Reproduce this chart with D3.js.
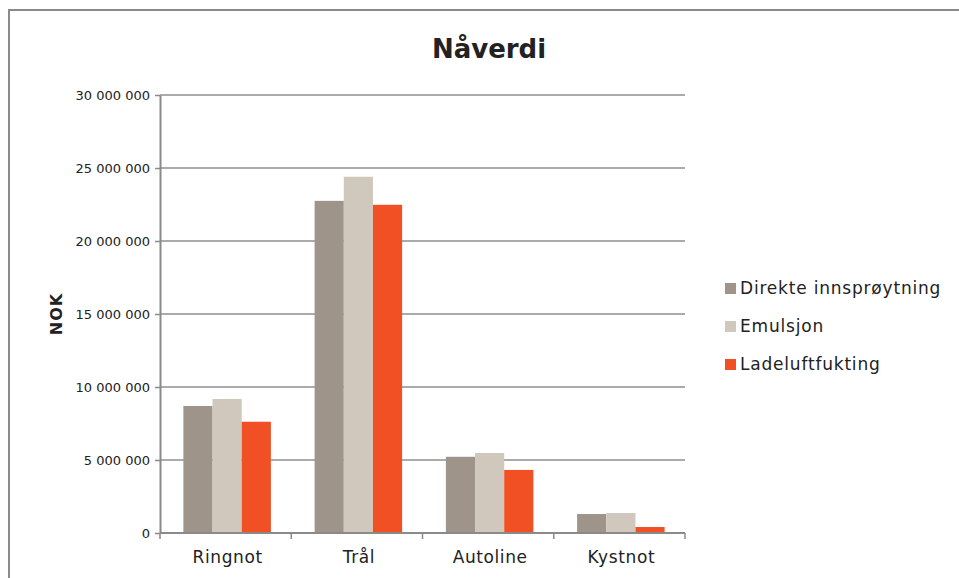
<!DOCTYPE html>
<html>
<head>
<meta charset="utf-8">
<script src="https://cdn.jsdelivr.net/npm/d3@7"></script>
<style>
  body { margin: 0; background: #fff; }
  text { font-family: "DejaVu Sans", Verdana, sans-serif; fill: #222; }
</style>
</head>
<body>
<svg width="959" height="578"></svg>
<script>
var categories = ['Ringnot', 'Trål', 'Autoline', 'Kystnot'];
var seriesNames = ['Direkte innsprøytning', 'Emulsjon', 'Ladeluftfukting'];
var seriesColors = ['#9e948a', '#d0c8bd', '#f05023'];
var direkte = [8700000, 22750000, 5220000, 1300000];
var emulsjon = [9180000, 24400000, 5480000, 1370000];
var ladeluft = [7620000, 22480000, 4320000, 410000];
var yTicks = [0, 5000000, 10000000, 15000000, 20000000, 25000000, 30000000];

var values = [direkte, emulsjon, ladeluft];

var svg = d3.select('svg'),
    w = +svg.attr('width'),
    h = +svg.attr('height');

// outer frame
svg.append('path')
    .attr('d', 'M9,' + (h + 5) + 'V10H' + (w + 5))
    .attr('fill', 'none')
    .attr('stroke', '#8a8a8a')
    .attr('stroke-width', 2);

var plotL = 160, plotR = 685, plotT = 95, plotB = 533;

var x = d3.scaleBand()
      .domain(categories)
      .range([plotL, plotR])
      .paddingInner(0)
      .paddingOuter(0),
    y = d3.scaleLinear()
      .domain([0, 30000000])
      .range([plotB, plotT]);

// bars sit a touch right of the band centre in the original
var xInner = d3.scaleBand()
      .domain(d3.range(seriesNames.length))
      .range([1.5, x.bandwidth() + 1.5])
      .paddingOuter(0.75)
      .paddingInner(0);

var fmt = function(d) { return d3.format(',')(d).replace(/,/g, ' '); };

// gridlines
svg.append('g')
    .selectAll('line')
    .data(yTicks.slice(1))
    .enter()
    .append('line')
    .attr('x1', plotL)
    .attr('x2', plotR)
    .attr('y1', function(d) { return y(d); })
    .attr('y2', function(d) { return y(d); })
    .attr('stroke', '#8f8f8f')
    .attr('stroke-width', 1.5);

// bars
values.forEach(function(vals, s) {
  svg.append('g')
    .selectAll('rect')
    .data(vals)
    .enter()
    .append('rect')
    .attr('x', function(d, i) { return x(categories[i]) + xInner(s); })
    .attr('width', xInner.bandwidth())
    .attr('y', function(d) { return y(d); })
    .attr('height', function(d) { return y(0) - y(d); })
    .attr('fill', seriesColors[s]);
});

// y axis
var yAxis = svg.append('g')
    .attr('transform', 'translate(' + plotL + ',0)')
    .call(d3.axisLeft(y).tickValues(yTicks).tickFormat(fmt).tickSize(5).tickSizeOuter(0));
yAxis.select('.domain').attr('stroke', '#8a8a8a').attr('stroke-width', 2);
yAxis.selectAll('.tick line').attr('stroke', '#8a8a8a').attr('stroke-width', 1.5);
yAxis.selectAll('.tick text')
    .attr('x', -10)
    .style('font-family', '"DejaVu Sans", Verdana, sans-serif')
    .style('font-size', '13px')
    .attr('fill', '#222');

// x axis
var xAxis = svg.append('g')
    .attr('transform', 'translate(0,' + plotB + ')')
    .call(d3.axisBottom(x).tickSize(0).tickPadding(18));
xAxis.select('.domain').remove();
xAxis.append('line')
    .attr('x1', plotL).attr('x2', plotR)
    .attr('stroke', '#8a8a8a').attr('stroke-width', 2);
xAxis.selectAll('.sep')
    .data(categories.concat(['end']))
    .enter()
    .append('line')
    .attr('class', 'sep')
    .attr('x1', function(d, i) { return plotL + i * x.bandwidth(); })
    .attr('x2', function(d, i) { return plotL + i * x.bandwidth(); })
    .attr('y1', 0).attr('y2', 6)
    .attr('stroke', '#8a8a8a').attr('stroke-width', 1.5);
xAxis.selectAll('.tick text')
    .attr('transform', 'translate(2,0)')
    .style('font-family', '"DejaVu Sans", Verdana, sans-serif')
    .style('font-size', '17px')
    .style('letter-spacing', '0.6px')
    .attr('fill', '#222');

// title
svg.append('text')
    .attr('x', 489)
    .attr('y', 58)
    .attr('text-anchor', 'middle')
    .style('font-size', '26px')
    .style('font-weight', 'bold')
    .text('Nåverdi');

// y label
svg.append('text')
    .attr('transform', 'translate(62,' + ((plotT + plotB) / 2) + ') rotate(-90)')
    .attr('text-anchor', 'middle')
    .style('font-size', '16px')
    .style('font-weight', 'bold')
    .style('letter-spacing', '1px')
    .text('NOK');

// legend
var legend = svg.append('g')
    .selectAll('g')
    .data(seriesNames)
    .enter()
    .append('g')
    .attr('transform', function(d, i) { return 'translate(725,' + (288 + i * 38) + ')'; });

legend.append('rect')
    .attr('x', 0).attr('y', -5)
    .attr('width', 11).attr('height', 11)
    .attr('fill', function(d, i) { return seriesColors[i]; });

legend.append('text')
    .attr('x', 15)
    .attr('y', 6)
    .style('font-size', '17px')
    .style('letter-spacing', '0.8px')
    .text(function(d) { return d; });
</script>
</body>
</html>
